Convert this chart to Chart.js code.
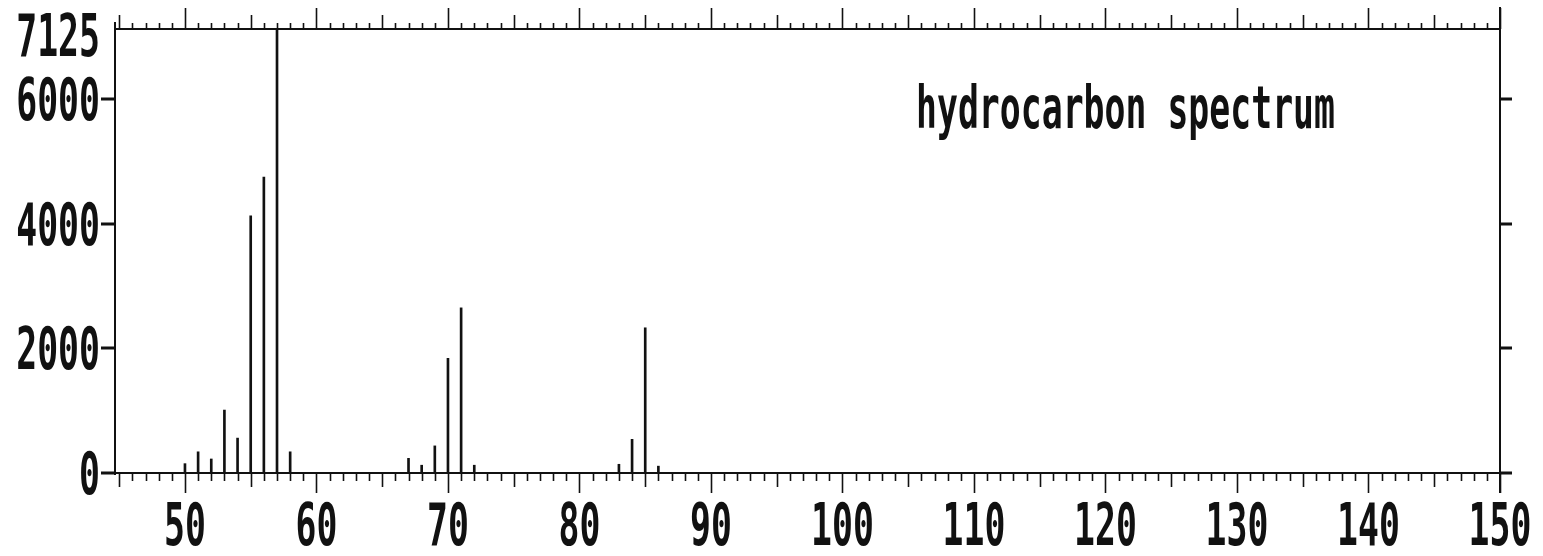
<!DOCTYPE html>
<html>
<head>
<meta charset="utf-8">
<script src="https://cdn.jsdelivr.net/npm/chart.js@4/dist/chart.umd.min.js"></script>
<style>
  html, body { margin: 0; padding: 0; background: #fff; }
  #wrap { width: 1543px; height: 556px; }
</style>
</head>
<body>
<div id="wrap"><canvas id="spec" width="1543" height="556"></canvas></div>
<script>
// Mass numbers (m/z) and their ion counts
const massNumbers = [50, 51, 52, 53, 54, 55, 56, 57, 58, 67, 68, 69, 70, 71, 72, 83, 84, 85, 86];
const intensities = [150, 340, 225, 1010, 560, 4125, 4750, 7125, 340, 235, 125, 435, 1840, 2650, 125, 140, 540, 2330, 110];

// Axis ranges and labels
const xMin = 44.68;
const xMax = 150;
const xLabelValues = [50, 60, 70, 80, 90, 100, 110, 120, 130, 140, 150];
const yMax = 7125;
const yLabelValues = [0, 2000, 4000, 6000];
const titleText = 'hydrocarbon spectrum';

const INK = '#111';
const FONT = 'bold 58px "DejaVu Sans Mono"';
const SQUEEZE = 0.6;

// Tall, condensed plotter-style text
function plotterText(ctx, str, x, baseline, align) {
  ctx.save();
  ctx.translate(x, baseline);
  ctx.scale(SQUEEZE, 1);
  ctx.font = FONT;
  ctx.fillStyle = INK;
  ctx.textAlign = align;
  ctx.textBaseline = 'alphabetic';
  ctx.fillText(str, 0, 0);
  ctx.restore();
}

const framePlugin = {
  id: 'plotterFrame',
  afterDatasetsDraw(chart) {
    const ctx = chart.ctx;
    const xs = chart.scales.x, ys = chart.scales.y;
    const a = chart.chartArea;
    ctx.save();
    ctx.strokeStyle = INK;
    ctx.lineCap = 'butt';

    // box
    ctx.lineWidth = 2;
    ctx.beginPath();
    ctx.moveTo(a.left, a.top - 7);
    ctx.lineTo(a.left, a.bottom + 2);
    ctx.moveTo(a.left - 1, a.top);
    ctx.lineTo(a.right + 1, a.top);
    ctx.moveTo(a.right, a.top - 22);
    ctx.lineTo(a.right, a.bottom + 20);
    ctx.moveTo(a.left - 1, a.bottom);
    ctx.lineTo(a.right + 1, a.bottom);
    ctx.stroke();

    // unit ticks on the bottom (downward) and top (upward) edges
    ctx.lineWidth = 1.6;
    ctx.beginPath();
    for (let v = Math.ceil(xMin); v <= xMax; v++) {
      const px = Math.round(xs.getPixelForValue(v)) + 0.5;
      let down = 8, up = 6;
      if (v % 10 === 0) { down = 20; up = 21; }
      else if (v % 5 === 0) { down = 14; up = 14; }
      ctx.moveTo(px, a.bottom);
      ctx.lineTo(px, a.bottom + down);
      ctx.moveTo(px, a.top);
      ctx.lineTo(px, a.top - up);
    }
    ctx.stroke();

    // y ticks: dashes left of the axis, short stubs right of it
    ctx.lineWidth = 3;
    ctx.beginPath();
    yLabelValues.forEach(v => {
      const py = Math.round(ys.getPixelForValue(v));
      ctx.moveTo(a.left - 14, py);
      ctx.lineTo(a.left, py);
      ctx.moveTo(a.right, py);
      ctx.lineTo(a.right + 12, py);
    });
    ctx.stroke();

    // y labels
    const capHalf = 21;
    plotterText(ctx, String(yMax), 100, a.top + 6 + capHalf, 'right');
    yLabelValues.forEach(v => {
      const py = ys.getPixelForValue(v);
      plotterText(ctx, String(v), 100, py + capHalf, 'right');
    });

    // x labels
    xLabelValues.forEach(v => {
      const px = xs.getPixelForValue(v);
      plotterText(ctx, String(v), px, 545, 'center');
    });

    // caption inside the plot
    plotterText(ctx, titleText, 916, 128, 'left');
    ctx.restore();
  }
};

new Chart(document.getElementById('spec'), {
  type: 'bar',
  data: {
    datasets: [{
      data: massNumbers.map((m, i) => ({ x: m, y: intensities[i] })),
      backgroundColor: INK,
      borderWidth: 0,
      barThickness: 2
    }]
  },
  options: {
    responsive: false,
    animation: false,
    layout: { padding: { left: 115, right: 43, top: 29, bottom: 83 } },
    plugins: { legend: { display: false }, tooltip: { enabled: false } },
    scales: {
      x: { type: 'linear', min: xMin, max: xMax, offset: false, display: false, grid: { offset: false } },
      y: { type: 'linear', min: 0, max: yMax, display: false }
    }
  },
  plugins: [framePlugin]
});
</script>
</body>
</html>
